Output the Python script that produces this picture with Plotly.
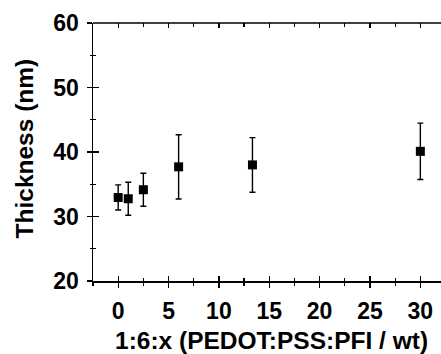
import plotly.graph_objects as go

ratio = [0, 1, 2.5, 6, 13.33, 30]
thickness = [32.95, 32.75, 34.15, 37.7, 38.0, 40.1]
thickness_err = [1.95, 2.55, 2.55, 4.98, 4.23, 4.37]

x_title = "1:6:x (PEDOT:PSS:PFI / wt)"
y_title = "Thickness (nm)"
x_ticks = [0, 5, 10, 15, 20, 25, 30]
y_ticks = [20, 30, 40, 50, 60]

XR = [-2.5, 32.05]
YR = [20, 60]
FONT = "Liberation Sans"

fig = go.Figure()
fig.add_trace(go.Scatter(
    x=ratio, y=thickness, mode="markers",
    marker=dict(symbol="square", size=9, color="black"),
    error_y=dict(type="data", array=thickness_err, visible=True,
                 color="black", thickness=1.4, width=3),
    showlegend=False, hoverinfo="skip"))
for xa, ya in [("x2", "y"), ("x3", "y"), ("x", "y2")]:
    fig.add_trace(go.Scatter(x=ratio, y=thickness, mode="markers",
                             marker=dict(opacity=0), xaxis=xa, yaxis=ya,
                             showlegend=False, hoverinfo="skip"))

common = dict(showgrid=False, zeroline=False, linecolor="black", linewidth=1.5,
              tickcolor="black", tickwidth=1.3, automargin=False)
tf = dict(family=FONT, size=23, color="black", weight="bold")
ttf = dict(family=FONT, size=24.5, color="black", weight="bold")

fig.update_layout(
    width=441, height=354,
    margin=dict(l=93, r=0, t=23, b=73),
    plot_bgcolor="white", paper_bgcolor="white",
    font=dict(family=FONT, size=23, color="black", weight="bold"),
    xaxis=dict(range=XR, tickvals=x_ticks, ticks="outside", ticklen=5,
               showline=True, ticklabelstandoff=4, tickfont=tf,
               minor=dict(dtick=2.5, tick0=0, ticks="outside", ticklen=3,
                          tickcolor="black", tickwidth=1.3),
               **common),
    xaxis2=dict(range=XR, overlaying="x", anchor="y", side="bottom",
                tickvals=x_ticks, ticks="inside", ticklen=5, showticklabels=False,
                showline=False,
                minor=dict(dtick=2.5, tick0=0, ticks="inside", ticklen=3,
                           tickcolor="black", tickwidth=1.3),
                **common),
    xaxis3=dict(range=XR, overlaying="x", anchor="y", side="top",
                tickvals=x_ticks, ticks="inside", ticklen=5, showticklabels=False,
                showline=False,
                minor=dict(dtick=2.5, tick0=0, ticks="inside", ticklen=4,
                           tickcolor="black", tickwidth=1.3),
                **common),
    yaxis=dict(range=YR, tickvals=y_ticks, ticks="outside", ticklen=5,
               showline=True, ticklabelstandoff=3, tickfont=tf,
               minor=dict(dtick=5, tick0=20, ticks="outside", ticklen=2,
                          tickcolor="black", tickwidth=1.3),
               **common),
    yaxis2=dict(range=YR, overlaying="y", anchor="x", side="left",
                tickvals=y_ticks, ticks="inside", ticklen=6, showticklabels=False,
                showline=False,
                minor=dict(dtick=5, tick0=20, ticks="inside", ticklen=3,
                           tickcolor="black", tickwidth=1.3),
                **common),
    shapes=[
        dict(type="line", xref="paper", yref="paper", x0=0, x1=1.01, y0=1, y1=1,
             layer="above", line=dict(color="black", width=1.5)),
    ],
    annotations=[
        dict(text=x_title, xref="paper", yref="paper", x=0.512, y=-0.232,
             xanchor="center", yanchor="middle", showarrow=False, font=ttf),
        dict(text=y_title, xref="paper", yref="paper", x=-0.198, y=0.514,
             xanchor="center", yanchor="middle", showarrow=False, font=ttf,
             textangle=-90),
    ],
)

fig.write_html("out.html", config={"staticPlot": True, "displayModeBar": False})
